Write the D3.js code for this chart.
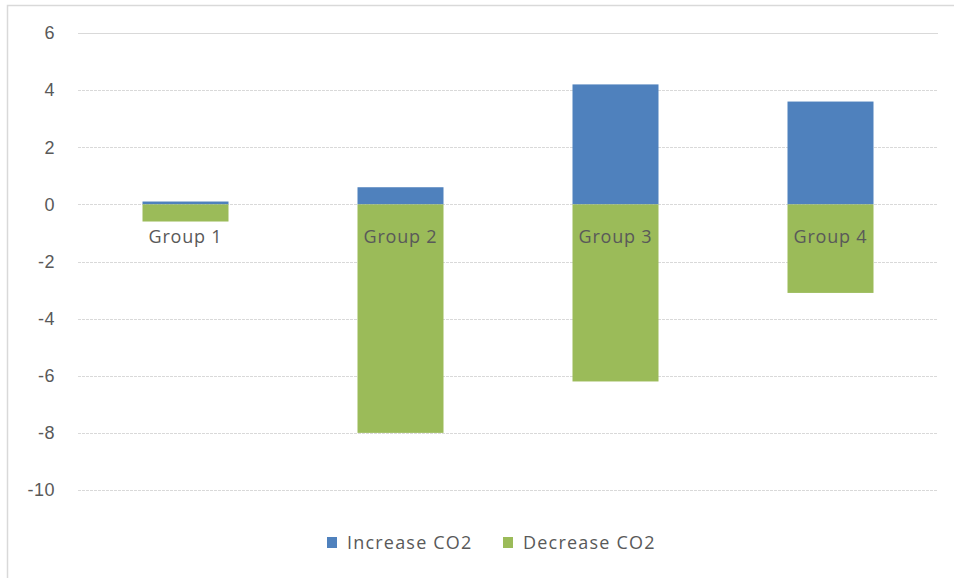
<!DOCTYPE html>
<html>
<head>
<meta charset="utf-8">
<script src="https://cdn.jsdelivr.net/npm/d3@7"></script>
<style>
  body { margin: 0; background: #fff; }
  svg { display: block; font-family: "Open Sans", "Noto Sans", sans-serif; }
</style>
</head>
<body>
<div id="chart"></div>
<script>
var groups = ["Group 1", "Group 2", "Group 3", "Group 4"];
var increaseCO2 = [0.1, 0.6, 4.2, 3.6];
var decreaseCO2 = [-0.6, -8.0, -6.2, -3.1];
var yTicks = [6, 4, 2, 0, -2, -4, -6, -8, -10];
var seriesNames = ["Increase CO2", "Decrease CO2"];
var seriesColors = ["#4f81bd", "#9bbb59"];

var width = 954, height = 578;
var plot = { left: 78, right: 938, top: 33, bottom: 490 };

var svg = d3.select("#chart").append("svg")
    .attr("width", width)
    .attr("height", height);

// outer frame (only top and left edges show in the picture)
svg.append("path")
    .attr("d", "M7.5,578 V5.5 H954")
    .attr("fill", "none")
    .attr("stroke", "#d9d9d9")
    .attr("stroke-width", 1.5);

var x = d3.scaleBand()
    .domain(groups)
    .range([plot.left, plot.right])
    .paddingInner(0.6)
    .paddingOuter(0.3);

var y = d3.scaleLinear()
    .domain([-10, 6])
    .range([plot.bottom, plot.top]);

// gridlines
svg.append("g").selectAll("line")
    .data(yTicks)
    .enter()
    .append("line")
    .attr("x1", plot.left)
    .attr("x2", plot.right)
    .attr("y1", function (d) { return Math.round(y(d)) + 0.5; })
    .attr("y2", function (d) { return Math.round(y(d)) + 0.5; })
    .attr("stroke", "#d9d9d9")
    .attr("stroke-width", 1)
    .attr("stroke-dasharray", function (d) { return d === 6 ? null : "3,1"; });

// y axis labels (plain hyphen for negatives, like the original)
var yAxis = d3.axisLeft(y)
    .tickValues(yTicks)
    .tickFormat(function (d) { return String(d); })
    .tickSize(0)
    .tickPadding(0);

var yg = svg.append("g")
    .attr("transform", "translate(55,0)")
    .call(yAxis);
yg.select(".domain").remove();
yg.selectAll("text")
    .attr("fill", "#595959")
    .style("font-size", "18px")
    .style("letter-spacing", "0.5px");

// bars
var series = [increaseCO2, decreaseCO2];
series.forEach(function (vals, si) {
    svg.append("g").selectAll("rect")
        .data(vals)
        .enter()
        .append("rect")
        .attr("x", function (d, i) { return x(groups[i]); })
        .attr("width", x.bandwidth())
        .attr("y", function (d) { return y(Math.max(d, 0)); })
        .attr("height", function (d) { return Math.abs(y(d) - y(0)); })
        .attr("fill", seriesColors[si]);
});

// category labels next to the zero line
svg.append("g").selectAll("text")
    .data(groups)
    .enter()
    .append("text")
    .attr("x", function (d) { return x(d) + x.bandwidth() / 2; })
    .attr("y", y(0) + 39)
    .attr("text-anchor", "middle")
    .attr("fill", "#595959")
    .style("font-size", "18px")
    .style("letter-spacing", "0.8px")
    .text(function (d) { return d; });

// legend
var legendX = [327, 503];
var legend = svg.append("g").selectAll("g")
    .data(seriesNames)
    .enter()
    .append("g")
    .attr("transform", function (d, i) { return "translate(" + legendX[i] + ",543)"; });

legend.append("rect")
    .attr("x", 0)
    .attr("y", -6)
    .attr("width", 10)
    .attr("height", 11)
    .attr("fill", function (d, i) { return seriesColors[i]; });

legend.append("text")
    .attr("x", 20)
    .attr("y", 6)
    .attr("fill", "#595959")
    .style("font-size", "18px")
    .style("letter-spacing", "1.2px")
    .text(function (d) { return d; });
</script>
</body>
</html>
